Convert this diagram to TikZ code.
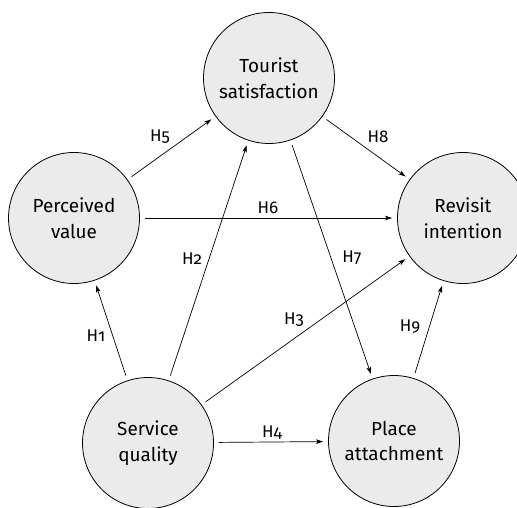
\documentclass[tikz,border=0pt]{standalone}
\usepackage{fontspec}
\setmainfont{Fira Sans}[Numbers=OldStyle]
\usetikzlibrary{arrows.meta}
\definecolor{concfill}{HTML}{EBEBEB}
\begin{document}
\begin{tikzpicture}[x=1bp,y=-1bp,
  concept/.style={circle, draw=black, line width=0.8bp, fill=concfill, minimum size=131bp, inner sep=0pt, align=center, font=\fontsize{19}{26}\selectfont},
  link/.style={-{Stealth[length=7bp,width=4.5bp,inset=1.5bp]}, line width=0.7bp, shorten <=5bp, shorten >=5bp},
  hyp/.style={font=\fontsize{17}{20}\selectfont, anchor=base, inner sep=0pt}]
\useasboundingbox (0,0) rectangle (517,508);
\clip (0,0) rectangle (517,508);
\node[concept] (ts) at (269,78) {Tourist\\satisfaction};
\node[concept] (pv) at (74,218) {Perceived\\value};
\node[concept] (ri) at (463,218) {Revisit\\intention};
\node[concept] (sq) at (148,443) {Service\\quality};
\node[concept] (pa) at (394,441) {Place\\attachment};
\draw[link] (pv) -- (ts);
\draw[link] (ts) -- (ri);
\draw[link] (pv) -- (ri);
\draw[link] (sq) -- (pv);
\draw[link] (sq) -- (ts);
\draw[link] (sq) -- (ri);
\draw[link] (sq) -- (pa);
\draw[link] (ts) -- (pa);
\draw[link] (pa) -- (ri);
\node[hyp] (h5) at (160,142) {H5};
\node[hyp] (h8) at (378,143) {H8};
\node[hyp] (h6) at (268,213) {H6};
\node[hyp] (h2) at (192,264) {H2};
\node[hyp] (h7) at (352,262) {H7};
\node[hyp] (h1) at (96,341) {H1};
\node[hyp] (h3) at (294,324) {H3};
\node[hyp] (h9) at (410,331) {H9};
\node[hyp] (h4) at (272,437) {H4};
\end{tikzpicture}
\end{document}
